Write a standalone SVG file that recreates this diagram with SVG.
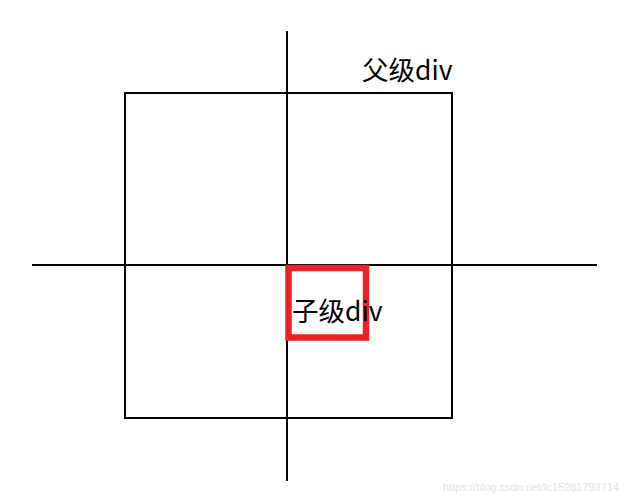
<svg xmlns="http://www.w3.org/2000/svg" width="626" height="500" viewBox="0 0 626 500">
<style>
.ln{stroke:#000;stroke-width:2;fill:none}
.lbl{font-family:"Noto Sans CJK SC","Noto Sans",sans-serif;font-size:26.5px;fill:#000}
.wm{font-family:"Liberation Sans",Arial,sans-serif;font-size:11px;fill:#e2e2e2}
</style>
<rect width="626" height="500" fill="#fff"/>
<g id="parent">
<rect class="ln" x="125" y="93" width="327" height="325"/>
<text class="lbl" x="362" y="80">父级div</text>
</g>
<g id="axes">
<line class="ln" x1="287" y1="31" x2="287" y2="481"/>
<line class="ln" x1="32" y1="265" x2="597" y2="265"/>
</g>
<g id="child">
<rect x="288.5" y="268" width="77.5" height="69.5" fill="none" stroke="#e8242a" stroke-width="6.5"/>
<text class="lbl" x="292" y="321">子级div</text>
</g>
<text class="wm" x="443" y="491" textLength="176" lengthAdjust="spacingAndGlyphs">https://blog.csdn.net/lc15281793714</text>
</svg>
